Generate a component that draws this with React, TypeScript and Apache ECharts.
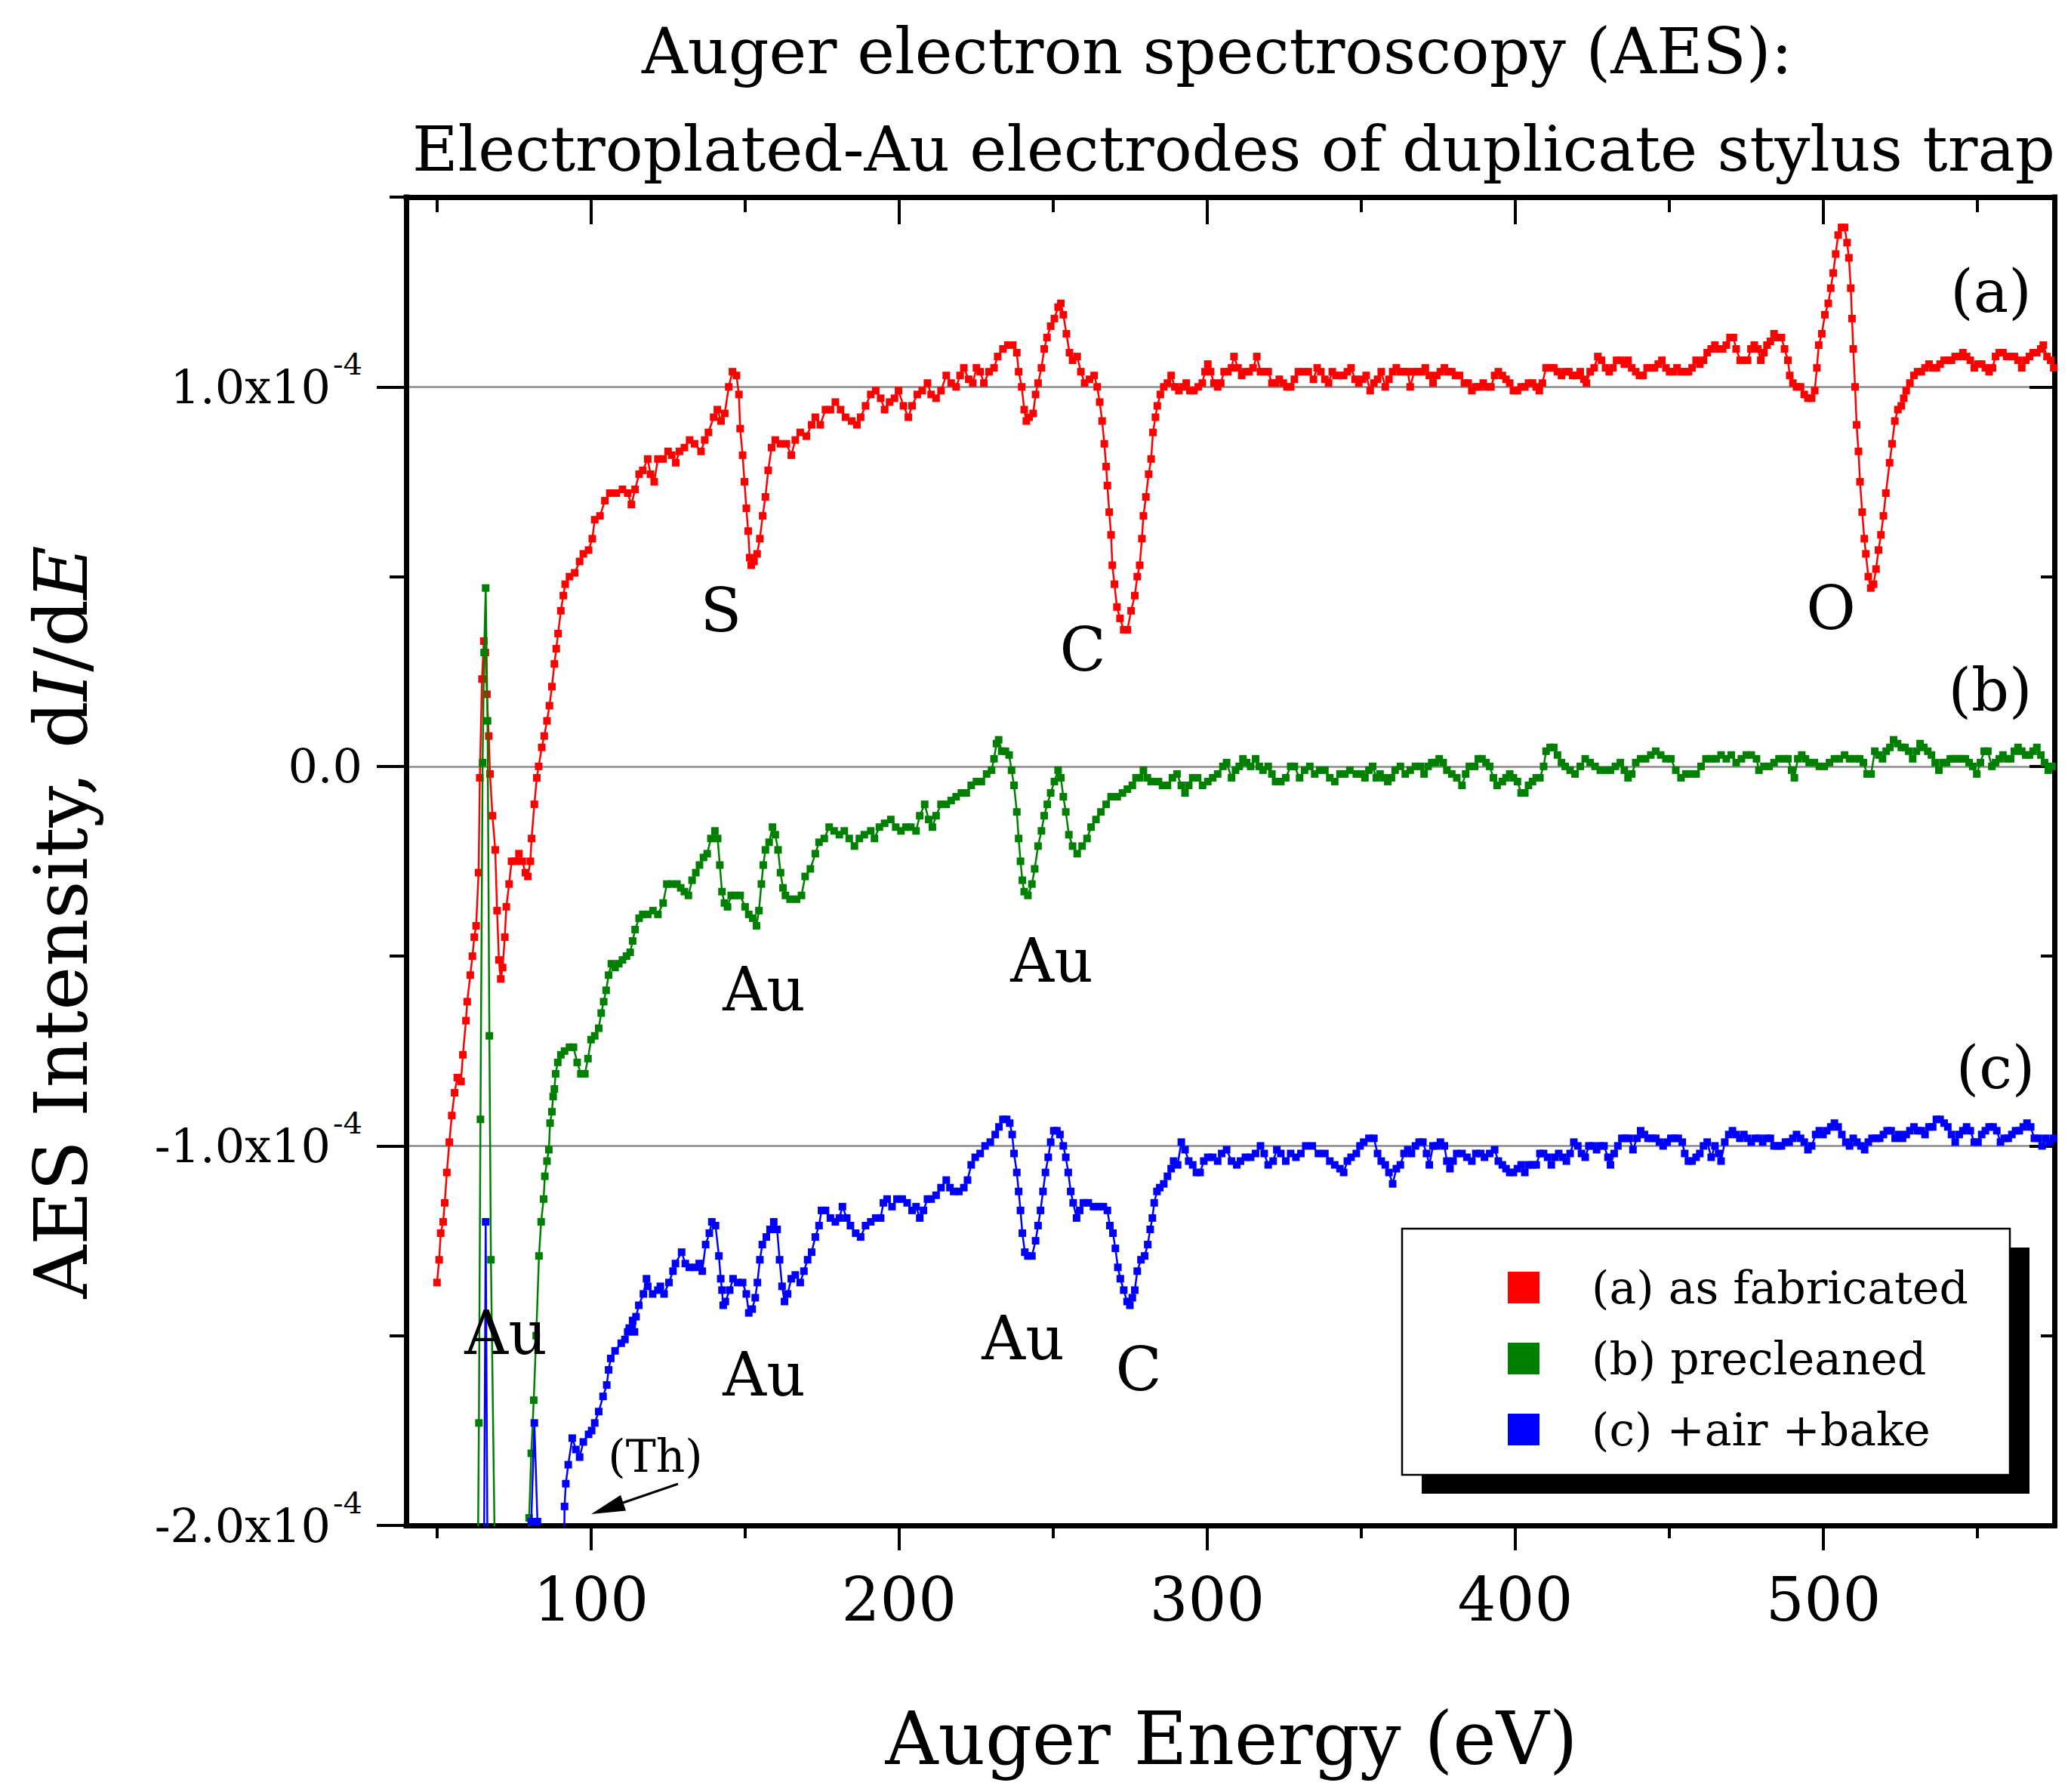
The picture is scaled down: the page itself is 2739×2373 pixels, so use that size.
import React, { useEffect, useRef } from 'react';
import * as echarts from 'echarts';

const FONT = '"DejaVu Serif", "Liberation Serif", serif';

// Axis ranges (y values are in units of 1e-4)
const X_MIN = 40;
const X_MAX = 575;
const Y_MIN = -2;
const Y_MAX = 1.5;
const xMajorTicks = [100, 200, 300, 400, 500];
const xMinorTicks = [50, 150, 250, 350, 450, 550];
const yMajorTicks = [-2, -1, 0, 1];
const yMinorTicks = [-1.5, -0.5, 0.5, 1.5];

const seriesNames = ['(a) as fabricated', '(b) precleaned', '(c) +air +bake'];
const seriesColors = ['#ff0000', '#008000', '#0000ff'];

// (a) as fabricated : [energy eV, dI/dE in 1e-4]
const seriesA = [
  [50.0,-1.36],[50.7,-1.30],[51.2,-1.23],[52.0,-1.20],[52.5,-1.15],[53.2,-1.07],[54.0,-0.99],[54.8,-0.92],[55.7,-0.86],[56.6,-0.82],
  [57.8,-0.83],[58.4,-0.76],[59.4,-0.67],[59.8,-0.62],[60.8,-0.55],[61.5,-0.50],[62.1,-0.45],[62.7,-0.42],[63.5,-0.28],[63.9,-0.03],
  [64.6,0.23],[65.2,0.33],[65.7,0.30],[66.2,0.19],[66.8,0.08],[67.2,-0.02],[68.0,-0.13],[68.9,-0.22],[69.5,-0.38],[70.1,-0.51],
  [70.7,-0.56],[71.3,-0.53],[72.0,-0.45],[72.5,-0.37],[73.4,-0.31],[74.2,-0.25],[75.4,-0.25],[76.6,-0.23],[77.7,-0.25],[78.7,-0.28],
  [79.5,-0.29],[80.3,-0.25],[80.7,-0.19],[81.6,-0.10],[82.4,-0.03],[83.0,0.00],[84.0,0.05],[84.8,0.08],[85.7,0.12],[86.5,0.16],
  [87.3,0.21],[88.1,0.27],[88.7,0.31],[89.3,0.35],[90.2,0.41],[91.0,0.45],[91.6,0.48],[93.0,0.50],[94.7,0.51],[96.3,0.54],
  [97.5,0.56],[99.2,0.57],[100.4,0.60],[101.2,0.65],[102.9,0.66],[104.5,0.70],[106.1,0.72],[108.2,0.72],[110.2,0.73],[111.9,0.72],
  [113.1,0.69],[114.3,0.73],[115.6,0.77],[116.8,0.78],[118.4,0.81],[119.3,0.77],[120.5,0.75],[121.7,0.81],[123.4,0.81],[125.0,0.83],
  [126.2,0.82],[127.5,0.80],[128.7,0.83],[130.3,0.84],[132.0,0.86],[133.6,0.85],[135.7,0.83],[136.9,0.86],[138.1,0.88],[139.8,0.92],
  [141.0,0.94],[142.2,0.91],[143.4,0.93],[144.7,1.00],[145.9,1.04],[147.2,1.03],[148.0,0.98],[148.4,0.89],[149.2,0.82],[149.8,0.75],
  [150.4,0.68],[151.0,0.62],[151.5,0.55],[152.0,0.53],[152.9,0.54],[153.9,0.56],[154.8,0.60],[155.7,0.66],[156.6,0.71],[157.5,0.78],
  [158.6,0.84],[159.8,0.86],[161.5,0.85],[163.4,0.85],[165.0,0.82],[166.3,0.86],[167.9,0.88],[169.9,0.87],[171.6,0.90],[172.8,0.92],
  [174.4,0.90],[176.1,0.94],[177.7,0.94],[179.3,0.96],[181.0,0.94],[182.6,0.92],[184.6,0.91],[186.3,0.90],[187.5,0.92],[189.1,0.95],
  [190.8,0.98],[192.4,0.99],[194.0,0.97],[195.3,0.94],[196.9,0.96],[198.5,0.97],[199.8,0.99],[201.4,0.95],[203.0,0.92],[204.2,0.95],
  [205.9,0.98],[207.5,0.99],[209.2,1.01],[210.4,0.98],[212.0,0.97],[213.6,0.99],[215.3,1.03],[216.9,1.01],[218.5,1.00],[219.8,1.03],
  [221.0,1.05],[222.6,1.02],[223.9,1.01],[225.1,1.05],[226.3,1.04],[227.5,1.01],[229.2,1.04],[230.8,1.05],[232.0,1.08],[233.7,1.10],
  [235.3,1.11],[236.9,1.11],[238.2,1.09],[238.8,1.04],[239.8,1.00],[240.6,0.94],[241.3,0.91],[242.2,0.92],[243.5,0.93],[244.3,0.98],
  [245.1,1.01],[246.2,1.05],[247.1,1.10],[248.0,1.13],[249.2,1.16],[250.4,1.18],[251.6,1.21],[252.5,1.22],[253.3,1.19],[254.3,1.14],
  [255.3,1.09],[256.3,1.07],[257.8,1.08],[259.0,1.04],[260.2,1.01],[261.8,1.02],[263.3,1.03],[264.3,1.00],[265.1,0.96],[265.9,0.91],
  [266.6,0.85],[267.2,0.79],[267.6,0.74],[268.2,0.67],[268.8,0.61],[269.2,0.53],[269.9,0.48],[270.7,0.42],[271.7,0.39],[272.9,0.36],
  [274.1,0.36],[275.3,0.41],[276.5,0.45],[277.3,0.50],[278.1,0.53],[278.8,0.60],[279.3,0.66],[280.1,0.71],[281.0,0.77],[281.8,0.81],
  [282.4,0.88],[283.2,0.92],[283.8,0.95],[284.8,0.98],[285.9,1.00],[287.1,1.01],[288.3,1.03],[289.5,1.00],[290.8,0.99],[292.0,1.00],
  [293.2,1.01],[294.4,0.99],[295.7,0.99],[297.1,1.00],[298.4,1.01],[299.3,1.04],[300.2,1.06],[301.1,1.04],[302.2,1.01],[303.4,1.00],
  [304.4,1.01],[305.5,1.04],[306.7,1.04],[307.9,1.05],[308.7,1.08],[310.0,1.05],[311.2,1.03],[312.4,1.04],[313.6,1.04],[314.9,1.05],
  [316.1,1.08],[317.3,1.04],[318.5,1.04],[319.8,1.04],[321.0,1.01],[322.2,1.01],[323.4,1.02],[324.7,1.01],[325.9,1.00],[327.1,1.00],
  [328.3,1.02],[329.6,1.04],[331.2,1.04],[332.8,1.04],[334.5,1.02],[335.7,1.05],[336.9,1.04],[338.2,1.02],[339.4,1.01],[340.6,1.04],
  [341.8,1.03],[343.1,1.03],[344.3,1.03],[345.5,1.04],[346.7,1.05],[348.0,1.02],[349.2,1.01],[350.4,1.02],[351.6,1.03],[352.9,0.99],
  [354.1,1.01],[355.3,1.02],[356.5,1.04],[357.8,1.00],[359.0,1.02],[360.2,1.04],[361.4,1.05],[362.7,1.04],[363.9,1.04],[365.1,1.04],
  [365.9,1.00],[367.2,1.04],[368.4,1.04],[369.6,1.04],[370.8,1.05],[372.1,1.03],[373.3,1.01],[374.5,1.03],[375.7,1.04],[377.0,1.05],
  [378.2,1.04],[379.4,1.04],[380.6,1.03],[381.9,1.03],[383.5,1.01],[384.7,1.01],[385.9,0.99],[387.2,1.00],[388.4,1.00],[389.6,1.01],
  [390.8,1.00],[392.1,1.00],[393.3,1.03],[394.5,1.04],[395.8,1.03],[397.0,1.02],[398.2,1.01],[399.4,0.99],[400.7,0.99],[401.9,1.00],
  [403.1,1.00],[404.3,1.01],[405.6,1.01],[406.8,1.00],[407.8,0.99],[408.8,1.01],[410.0,1.05],[411.3,1.05],[412.5,1.05],[413.7,1.04],
  [415.0,1.03],[416.2,1.04],[417.4,1.04],[418.6,1.03],[419.9,1.03],[421.1,1.04],[422.3,1.02],[423.1,1.01],[424.3,1.04],[425.6,1.05],
  [426.8,1.08],[428.0,1.07],[429.3,1.05],[430.5,1.04],[431.7,1.05],[432.9,1.07],[434.2,1.07],[435.4,1.06],[436.6,1.07],[437.8,1.05],
  [439.1,1.04],[440.3,1.03],[441.5,1.03],[442.8,1.05],[444.0,1.05],[445.2,1.05],[446.4,1.06],[447.6,1.07],[448.9,1.05],[450.1,1.04],
  [451.3,1.04],[452.5,1.05],[453.8,1.04],[455.0,1.04],[456.2,1.04],[457.4,1.05],[458.7,1.07],[459.9,1.06],[461.1,1.07],[462.3,1.09],
  [463.6,1.10],[464.8,1.11],[466.0,1.10],[467.3,1.10],[468.5,1.11],[469.7,1.13],[470.8,1.13],[471.7,1.10],[473.0,1.07],[474.2,1.07],
  [475.4,1.07],[476.5,1.10],[477.6,1.11],[478.7,1.10],[479.7,1.07],[480.7,1.09],[481.7,1.11],[482.8,1.12],[484.0,1.14],[485.2,1.13],
  [486.4,1.13],[487.4,1.10],[488.5,1.07],[489.1,1.03],[490.1,1.01],[491.3,1.00],[492.6,1.00],[493.8,0.98],[495.0,0.97],[496.2,0.97],
  [497.2,0.99],[497.9,1.05],[498.5,1.11],[499.5,1.14],[500.5,1.19],[501.6,1.22],[502.4,1.26],[503.2,1.30],[504.0,1.35],[504.8,1.40],
  [505.9,1.42],[506.9,1.42],[507.7,1.38],[508.3,1.34],[508.9,1.26],[509.3,1.18],[509.7,1.10],[510.3,1.00],[510.8,0.90],[511.4,0.83],
  [511.9,0.75],[512.6,0.67],[513.3,0.60],[513.8,0.56],[514.6,0.50],[515.4,0.47],[516.3,0.48],[517.1,0.52],[517.9,0.57],[518.7,0.61],
  [519.5,0.66],[520.3,0.72],[521.5,0.80],[522.3,0.85],[523.2,0.91],[524.2,0.94],[525.3,0.95],[526.1,0.97],[526.9,0.99],[528.1,1.01],
  [529.4,1.03],[530.6,1.04],[531.8,1.04],[533.0,1.05],[534.3,1.06],[535.5,1.05],[536.7,1.05],[537.9,1.06],[539.2,1.07],[540.4,1.07],
  [541.6,1.07],[542.8,1.08],[544.1,1.08],[545.3,1.09],[546.5,1.08],[547.7,1.07],[549.0,1.05],[550.2,1.06],[551.4,1.06],[552.6,1.05],
  [553.8,1.04],[554.9,1.05],[555.9,1.08],[557.1,1.09],[558.3,1.09],[559.5,1.08],[560.8,1.08],[562.0,1.08],[563.2,1.07],[564.4,1.05],
  [565.7,1.07],[566.9,1.08],[568.1,1.09],[569.3,1.09],[570.6,1.10],[571.4,1.11],[572.6,1.08],[573.8,1.07],[574.8,1.05]
];

// (b) precleaned
const seriesB = [
  [62.8,-2.6],[63.6,-1.73],[64.1,-0.93],[64.8,0.01],[65.3,0.30],[65.8,0.47],[66.4,0.12],[67.0,-0.71],[67.5,-1.30],[69.3,-2.4],
  [79.0,-2.5],[79.9,-1.98],[80.6,-1.81],[81.4,-1.67],[82.2,-1.50],[83.1,-1.29],[83.8,-1.20],[84.6,-1.14],[85.0,-1.08],[85.7,-1.04],
  [86.3,-1.01],[86.7,-0.94],[87.3,-0.91],[87.7,-0.87],[88.1,-0.85],[88.5,-0.81],[89.2,-0.78],[90.2,-0.76],[91.4,-0.75],[93.0,-0.74],
  [94.3,-0.74],[95.5,-0.78],[96.7,-0.81],[98.0,-0.81],[99.0,-0.77],[100.0,-0.72],[101.2,-0.71],[102.5,-0.69],[103.3,-0.65],[104.1,-0.62],
  [104.9,-0.59],[105.7,-0.55],[106.6,-0.52],[107.8,-0.53],[109.0,-0.52],[110.2,-0.51],[111.5,-0.50],[112.7,-0.49],[113.5,-0.46],[114.3,-0.43],
  [115.6,-0.40],[116.8,-0.39],[118.4,-0.39],[120.1,-0.38],[121.7,-0.39],[123.4,-0.36],[124.6,-0.31],[126.2,-0.31],[127.9,-0.31],[129.1,-0.32],
  [130.3,-0.33],[131.6,-0.34],[132.8,-0.30],[134.0,-0.28],[135.2,-0.26],[136.5,-0.24],[137.7,-0.23],[138.9,-0.19],[140.2,-0.17],[141.1,-0.19],
  [141.8,-0.26],[142.5,-0.33],[143.3,-0.36],[144.3,-0.37],[145.5,-0.34],[146.7,-0.34],[148.4,-0.34],[150.0,-0.37],[151.2,-0.39],[152.5,-0.40],
  [153.7,-0.42],[154.5,-0.38],[155.3,-0.31],[155.9,-0.26],[156.6,-0.22],[157.8,-0.20],[158.9,-0.16],[159.8,-0.18],[160.7,-0.22],[161.5,-0.28],
  [162.3,-0.32],[163.1,-0.34],[164.6,-0.35],[166.7,-0.35],[168.3,-0.34],[169.5,-0.29],[171.2,-0.27],[172.8,-0.23],[174.0,-0.20],[175.7,-0.19],
  [177.3,-0.16],[178.9,-0.17],[180.6,-0.18],[182.2,-0.17],[183.8,-0.19],[185.5,-0.21],[187.1,-0.19],[188.7,-0.18],[190.8,-0.17],[192.0,-0.19],
  [193.6,-0.16],[195.3,-0.15],[197.3,-0.14],[198.9,-0.16],[200.6,-0.17],[202.2,-0.16],[203.8,-0.16],[205.5,-0.17],[206.7,-0.13],[208.3,-0.10],
  [209.6,-0.14],[210.8,-0.16],[212.0,-0.13],[213.6,-0.10],[215.3,-0.10],[216.9,-0.09],[218.5,-0.08],[220.2,-0.07],[221.8,-0.07],[223.4,-0.05],
  [225.1,-0.04],[226.7,-0.04],[228.4,-0.02],[230.0,-0.01],[230.8,0.02],[231.6,0.06],[232.3,0.07],[233.3,0.04],[234.5,0.04],[235.7,0.03],
  [236.5,-0.01],[237.3,-0.05],[238.2,-0.12],[238.8,-0.19],[239.4,-0.25],[240.0,-0.30],[240.6,-0.33],[241.8,-0.34],[243.1,-0.31],[244.0,-0.27],
  [245.1,-0.21],[246.2,-0.17],[247.1,-0.13],[248.1,-0.10],[249.2,-0.07],[250.4,-0.04],[251.6,-0.01],[252.5,-0.03],[253.3,-0.08],[254.1,-0.12],
  [255.1,-0.18],[256.3,-0.21],[257.8,-0.23],[259.4,-0.21],[261.0,-0.19],[262.3,-0.16],[263.9,-0.14],[265.5,-0.12],[267.2,-0.10],[268.8,-0.08],
  [270.8,-0.08],[272.5,-0.07],[274.1,-0.06],[275.7,-0.05],[276.9,-0.03],[278.1,-0.03],[279.3,-0.01],[280.6,-0.03],[281.8,-0.04],[283.0,-0.04],
  [284.2,-0.04],[285.5,-0.05],[287.1,-0.05],[288.7,-0.03],[290.2,-0.02],[291.6,-0.05],[292.8,-0.07],[294.0,-0.05],[295.3,-0.03],[296.9,-0.03],
  [298.5,-0.05],[300.2,-0.04],[301.8,-0.03],[303.4,-0.02],[305.1,0.00],[306.3,0.01],[307.9,-0.03],[309.2,-0.01],[310.4,0.00],[311.6,0.02],
  [312.8,0.01],[314.1,0.00],[315.7,0.02],[316.9,0.00],[318.1,-0.01],[319.8,0.00],[321.0,-0.02],[322.2,-0.04],[323.9,-0.04],[325.5,-0.03],
  [327.1,0.00],[328.3,0.00],[330.0,-0.03],[331.6,-0.01],[333.3,0.00],[334.9,-0.02],[336.5,-0.01],[338.2,-0.01],[339.8,-0.03],[341.4,-0.04],
  [343.1,-0.02],[344.7,-0.02],[346.3,-0.01],[348.4,-0.02],[350.0,-0.02],[351.2,-0.03],[352.5,-0.01],[353.7,0.00],[354.9,-0.03],[356.1,-0.02],
  [357.4,-0.03],[358.6,-0.04],[359.8,-0.03],[361.0,-0.01],[362.7,0.00],[364.3,-0.02],[365.9,-0.01],[367.6,0.00],[369.2,0.00],[370.4,-0.02],
  [371.7,0.00],[372.9,0.01],[374.1,0.01],[375.3,0.02],[376.6,0.01],[377.8,-0.01],[379.4,-0.02],[381.0,-0.03],[382.7,-0.05],[383.9,-0.02],
  [385.1,0.00],[386.8,0.00],[388.0,0.02],[389.2,0.02],[390.5,0.01],[391.7,0.00],[392.9,-0.03],[394.1,-0.05],[395.8,-0.04],[397.0,-0.03],
  [398.2,-0.02],[399.4,-0.03],[400.7,-0.04],[401.9,-0.07],[403.1,-0.07],[404.3,-0.05],[405.6,-0.04],[406.8,-0.03],[408.0,-0.03],[409.2,0.00],
  [410.0,0.04],[411.3,0.05],[412.5,0.05],[413.7,0.03],[415.0,0.01],[416.2,0.00],[417.8,-0.01],[419.4,-0.02],[421.1,0.00],[422.7,0.02],
  [424.3,0.01],[425.9,0.00],[427.6,-0.01],[429.2,-0.01],[430.9,-0.01],[432.5,0.00],[434.1,0.01],[435.4,-0.01],[436.6,-0.03],[437.8,-0.02],
  [439.1,0.01],[440.7,0.02],[442.3,0.02],[444.0,0.03],[445.6,0.04],[447.2,0.03],[448.9,0.02],[450.5,0.02],[452.1,-0.01],[453.8,-0.03],
  [455.4,-0.02],[457.0,-0.02],[458.7,-0.02],[460.3,0.00],[461.9,0.02],[463.6,0.02],[465.2,0.02],[466.8,0.03],[468.5,0.02],[470.1,0.03],
  [471.7,0.01],[473.4,0.02],[475.0,0.03],[476.6,0.03],[478.3,0.02],[479.1,-0.01],[480.7,0.00],[482.4,0.00],[484.0,0.01],[485.6,0.02],
  [487.3,0.02],[488.5,0.02],[489.7,-0.01],[490.6,-0.03],[491.7,0.02],[493.0,0.03],[494.2,0.02],[495.4,0.01],[497.1,0.01],[498.7,0.00],
  [500.3,0.00],[502.0,0.01],[503.6,0.02],[505.2,0.02],[506.9,0.03],[508.5,0.02],[510.1,0.02],[511.8,0.02],[513.0,0.01],[514.2,-0.02],
  [515.5,-0.02],[516.7,0.04],[518.0,0.03],[519.2,0.02],[520.4,0.04],[521.6,0.05],[522.8,0.07],[524.1,0.06],[525.3,0.05],[526.5,0.05],
  [527.7,0.04],[529.0,0.02],[530.2,0.04],[531.4,0.06],[532.6,0.05],[533.9,0.04],[535.1,0.03],[536.3,0.01],[537.5,-0.01],[538.8,0.01],
  [540.0,0.01],[541.2,0.02],[542.4,0.02],[543.7,0.02],[544.9,0.02],[546.1,0.02],[547.3,0.01],[548.5,0.00],[549.8,-0.02],[551.0,0.01],
  [552.2,0.04],[553.4,0.04],[554.7,0.00],[555.9,0.01],[557.1,0.02],[558.3,0.03],[559.6,0.02],[560.8,0.02],[562.0,0.04],[563.2,0.05],
  [564.4,0.04],[565.7,0.03],[566.9,0.03],[568.1,0.04],[569.3,0.05],[570.6,0.03],[571.8,0.01],[573.0,-0.01],[574.2,0.00]
];

// (c) +air +bake
const seriesC = [
  [64.7,-3.0],[65.8,-1.20],[67.0,-3.0],[80.0,-2.6],[80.6,-1.99],[81.6,-1.73],[82.6,-1.99],[83.5,-2.6],[90.8,-2.4],[91.4,-1.95],
  [91.8,-1.89],[92.6,-1.84],[93.9,-1.77],[95.1,-1.80],[96.3,-1.82],[97.5,-1.78],[99.2,-1.76],[100.2,-1.75],[101.2,-1.73],[102.5,-1.70],
  [103.9,-1.66],[105.1,-1.63],[105.7,-1.59],[106.4,-1.56],[107.8,-1.54],[109.8,-1.52],[111.0,-1.51],[111.9,-1.49],[112.4,-1.48],[113.5,-1.46],
  [114.1,-1.49],[114.6,-1.45],[115.5,-1.42],[117.0,-1.39],[118.0,-1.35],[118.4,-1.37],[120.0,-1.39],[121.7,-1.38],[122.5,-1.37],[123.7,-1.39],
  [125.3,-1.36],[126.6,-1.33],[127.4,-1.31],[129.4,-1.28],[130.6,-1.31],[131.9,-1.32],[133.9,-1.32],[135.1,-1.31],[136.1,-1.33],[137.2,-1.26],
  [138.4,-1.23],[139.2,-1.20],[140.4,-1.21],[141.5,-1.29],[142.1,-1.35],[142.5,-1.38],[142.9,-1.42],[143.6,-1.41],[145.0,-1.38],[146.1,-1.35],
  [147.6,-1.36],[149.2,-1.36],[150.4,-1.39],[151.2,-1.44],[152.3,-1.43],[153.3,-1.40],[154.0,-1.36],[154.8,-1.30],[155.6,-1.26],[156.9,-1.24],
  [158.1,-1.22],[159.3,-1.20],[160.4,-1.22],[161.2,-1.30],[162.0,-1.37],[162.8,-1.41],[163.8,-1.39],[165.0,-1.35],[166.3,-1.34],[167.9,-1.36],
  [169.1,-1.33],[170.3,-1.30],[171.6,-1.28],[172.8,-1.24],[174.0,-1.21],[174.8,-1.17],[176.1,-1.17],[177.7,-1.19],[179.3,-1.20],[180.6,-1.19],
  [181.6,-1.16],[183.0,-1.19],[184.2,-1.21],[185.9,-1.23],[187.5,-1.24],[189.1,-1.21],[190.8,-1.20],[192.4,-1.19],[194.0,-1.19],[194.9,-1.15],
  [196.1,-1.14],[197.7,-1.16],[199.3,-1.14],[201.0,-1.14],[202.6,-1.15],[204.2,-1.17],[205.5,-1.16],[206.7,-1.19],[207.9,-1.17],[209.2,-1.14],
  [210.4,-1.14],[212.0,-1.13],[213.6,-1.11],[215.3,-1.09],[216.5,-1.11],[217.7,-1.12],[219.4,-1.12],[221.0,-1.11],[222.2,-1.09],[223.4,-1.05],
  [224.7,-1.03],[226.3,-1.02],[227.9,-1.00],[229.6,-0.99],[231.2,-0.97],[232.4,-0.95],[233.7,-0.93],[234.9,-0.93],[235.9,-0.94],[236.7,-0.97],
  [237.3,-1.02],[238.2,-1.07],[238.8,-1.12],[239.4,-1.17],[240.0,-1.23],[240.8,-1.28],[241.8,-1.29],[243.1,-1.29],[244.3,-1.25],[245.1,-1.21],
  [245.9,-1.17],[246.7,-1.12],[247.5,-1.07],[248.4,-1.03],[249.2,-0.99],[250.2,-0.96],[251.2,-0.96],[252.2,-0.97],[253.3,-1.00],[254.1,-1.03],
  [254.9,-1.07],[255.7,-1.12],[256.5,-1.15],[257.6,-1.19],[258.6,-1.17],[259.8,-1.15],[261.4,-1.15],[263.1,-1.16],[264.7,-1.16],[266.3,-1.16],
  [267.6,-1.17],[268.4,-1.21],[269.4,-1.23],[270.2,-1.27],[271.0,-1.32],[271.8,-1.35],[272.9,-1.38],[274.0,-1.41],[274.9,-1.42],[275.7,-1.40],
  [276.5,-1.38],[277.3,-1.33],[278.5,-1.30],[279.7,-1.29],[280.7,-1.26],[281.5,-1.22],[282.2,-1.19],[282.8,-1.15],[283.7,-1.12],[284.6,-1.11],
  [285.9,-1.10],[287.1,-1.08],[288.3,-1.06],[289.1,-1.04],[290.4,-1.05],[291.6,-0.99],[292.8,-1.01],[294.0,-1.04],[295.3,-1.05],[296.5,-1.07],
  [297.7,-1.07],[298.9,-1.04],[300.2,-1.03],[301.8,-1.03],[303.4,-1.04],[304.7,-1.02],[306.3,-1.01],[307.9,-1.04],[309.6,-1.05],[310.8,-1.04],
  [312.4,-1.03],[314.1,-1.03],[315.7,-1.02],[317.3,-1.00],[318.5,-1.02],[319.8,-1.05],[321.4,-1.04],[322.6,-1.01],[323.9,-1.02],[325.5,-1.04],
  [327.1,-1.02],[328.8,-1.03],[330.4,-1.02],[332.0,-1.00],[334.1,-1.00],[336.1,-1.02],[338.2,-1.02],[339.8,-1.04],[341.4,-1.05],[343.1,-1.06],
  [344.3,-1.07],[345.5,-1.04],[346.7,-1.03],[348.4,-1.02],[349.6,-1.00],[350.8,-0.99],[352.5,-0.98],[354.1,-0.98],[355.3,-1.02],[356.5,-1.04],
  [357.8,-1.05],[359.0,-1.07],[360.2,-1.10],[361.4,-1.06],[362.7,-1.05],[363.9,-1.02],[365.1,-1.01],[366.3,-1.02],[367.6,-1.00],[368.8,-0.99],
  [370.0,-0.99],[371.2,-1.02],[372.1,-1.05],[373.3,-1.00],[374.5,-1.00],[375.7,-0.99],[377.0,-1.00],[377.8,-1.04],[378.8,-1.06],[379.8,-1.04],
  [381.0,-1.02],[382.7,-1.02],[384.3,-1.03],[385.9,-1.04],[387.2,-1.02],[388.8,-1.02],[390.0,-1.03],[391.7,-1.02],[393.3,-1.01],[394.5,-1.04],
  [395.8,-1.05],[397.0,-1.06],[398.2,-1.07],[399.4,-1.07],[400.7,-1.06],[401.9,-1.05],[403.1,-1.07],[404.3,-1.05],[405.6,-1.05],[406.8,-1.05],
  [408.0,-1.02],[409.2,-1.02],[410.5,-1.03],[411.7,-1.05],[412.9,-1.03],[414.1,-1.02],[415.4,-1.03],[416.6,-1.04],[417.8,-1.02],[419.0,-0.99],
  [420.3,-1.00],[421.5,-1.02],[422.7,-1.03],[423.9,-1.00],[425.2,-1.00],[426.4,-1.01],[427.6,-1.00],[428.8,-1.00],[430.1,-1.03],[430.9,-1.05],
  [432.1,-1.02],[433.3,-1.00],[434.6,-0.98],[435.8,-0.98],[437.0,-0.98],[438.2,-1.01],[439.5,-0.98],[440.7,-0.96],[441.9,-0.97],[443.1,-0.98],
  [444.4,-0.98],[445.6,-0.98],[446.8,-0.99],[448.0,-1.00],[449.3,-0.99],[450.5,-0.98],[451.7,-0.98],[452.9,-0.98],[454.2,-0.99],[455.0,-1.02],
  [456.2,-1.04],[457.4,-1.04],[458.7,-1.03],[459.9,-1.02],[461.1,-1.00],[462.3,-0.99],[463.6,-1.03],[464.8,-1.00],[466.0,-1.02],[466.8,-1.04],
  [468.0,-0.99],[469.3,-0.97],[470.5,-0.96],[471.7,-0.97],[472.9,-0.98],[474.2,-0.97],[475.4,-0.98],[476.6,-0.99],[477.9,-0.98],[479.1,-0.98],
  [480.3,-0.99],[481.5,-0.98],[482.8,-0.98],[484.0,-1.00],[485.2,-1.00],[486.4,-1.00],[487.7,-0.99],[488.9,-0.99],[490.1,-0.98],[491.3,-0.97],
  [492.6,-0.98],[493.8,-0.99],[495.0,-1.01],[496.2,-1.00],[497.5,-0.97],[498.7,-0.96],[499.9,-0.97],[501.1,-0.96],[502.4,-0.95],[503.6,-0.94],
  [504.8,-0.95],[506.0,-0.97],[507.3,-0.99],[508.5,-1.00],[509.7,-0.98],[510.9,-0.99],[512.2,-1.00],[513.4,-1.01],[514.6,-0.99],[515.8,-0.98],
  [517.1,-0.98],[518.3,-0.98],[519.5,-0.97],[520.7,-0.96],[522.0,-0.96],[523.3,-0.98],[524.5,-0.97],[525.7,-0.98],[526.9,-0.97],[528.1,-0.96],
  [529.4,-0.95],[530.6,-0.96],[531.8,-0.96],[533.0,-0.97],[534.3,-0.95],[535.5,-0.95],[536.7,-0.93],[537.9,-0.93],[539.2,-0.94],[540.4,-0.95],
  [541.6,-0.97],[542.8,-0.99],[544.1,-0.97],[545.3,-0.96],[546.5,-0.95],[547.7,-0.96],[549.0,-0.99],[550.2,-0.99],[551.4,-0.97],[552.6,-0.96],
  [553.8,-0.95],[555.1,-0.95],[556.3,-0.96],[557.5,-0.99],[558.7,-0.98],[560.0,-0.98],[561.2,-0.97],[562.4,-0.96],[563.6,-0.96],[564.9,-0.95],
  [566.1,-0.94],[567.3,-0.95],[568.5,-0.98],[569.8,-0.98],[571.0,-1.00],[572.2,-0.98],[573.4,-0.99],[574.7,-0.98]
];

const seriesData = [seriesA, seriesB, seriesC];

function txt(text: string, x: number, y: number, size: number, align = 'center', extra: any = {}) {
  return {
    type: 'text',
    x,
    y,
    z: 20,
    silent: true,
    ...extra,
    style: {
      text,
      fontSize: size,
      fontFamily: FONT,
      fill: '#000',
      align,
      textAlign: align,
      verticalAlign: 'middle',
      textVerticalAlign: 'middle',
      ...(extra.style || {}),
    },
  };
}

const AXIS_W = 7;

function baseAxis(extra: any) {
  return {
    type: 'value',
    splitLine: { show: false },
    axisLabel: { show: false },
    ...extra,
  };
}

export default function App() {
  const ref = useRef<HTMLDivElement>(null);

  useEffect(() => {
    document.body.style.margin = '0';
    if (!ref.current) return;
    const chart = echarts.init(ref.current, undefined, { renderer: 'svg' });

    const lineStyleAxis = { color: '#000', width: AXIS_W, cap: 'square' };
    const tickStyle = { color: '#000', width: 4 };

    const xCommon = { min: X_MIN, max: X_MAX, gridIndex: 0 };
    const yCommon = { min: Y_MIN, max: Y_MAX, interval: 1, gridIndex: 0 };

    const option: any = {
      animation: false,
      backgroundColor: '#fff',
      grid: { left: 538, right: 18, top: 261, bottom: 353, containLabel: false, outerBoundsMode: 'none' },
      xAxis: [
        baseAxis({
          ...xCommon,
          position: 'bottom',
          axisLine: { show: true, onZero: false, lineStyle: lineStyleAxis },
          axisTick: { show: true, inside: false, length: 33, customValues: xMajorTicks, lineStyle: tickStyle },
          axisLabel: {
            show: true,
            customValues: xMajorTicks,
            fontSize: 80,
            fontFamily: FONT,
            color: '#000',
            margin: 58,
          },
        }),
        baseAxis({
          ...xCommon,
          position: 'bottom',
          axisLine: { show: false, onZero: false },
          axisTick: { show: true, inside: false, length: 17, customValues: xMinorTicks, lineStyle: tickStyle },
        }),
        baseAxis({
          ...xCommon,
          position: 'top',
          axisLine: { show: true, onZero: false, lineStyle: lineStyleAxis },
          axisTick: { show: true, inside: true, length: 36, customValues: xMajorTicks, lineStyle: tickStyle },
        }),
        baseAxis({
          ...xCommon,
          position: 'top',
          axisLine: { show: false, onZero: false },
          axisTick: { show: true, inside: true, length: 20, customValues: xMinorTicks, lineStyle: tickStyle },
        }),
      ],
      yAxis: [
        {
          type: 'value',
          ...yCommon,
          position: 'left',
          axisLine: { show: true, onZero: false, lineStyle: lineStyleAxis },
          axisTick: { show: true, inside: false, length: 39, customValues: yMajorTicks, lineStyle: tickStyle },
          splitLine: { show: true, lineStyle: { color: '#8a8a8a', width: 2.5 } },
          axisLabel: {
            show: true,
            customValues: yMajorTicks,
            fontSize: 62,
            fontFamily: FONT,
            color: '#000',
            margin: 58,
            lineHeight: 100,
            formatter: (v: number) => (Math.abs(v) < 1e-9 ? '0.0' : `${v.toFixed(1)}x10{s|-4}`),
            rich: {
              s: { fontSize: 40, fontFamily: FONT, color: '#000', lineHeight: 40, verticalAlign: 'top', padding: [0, 0, 0, 3] },
            },
          },
        },
        baseAxis({
          ...yCommon,
          position: 'left',
          axisLine: { show: false, onZero: false },
          axisTick: { show: true, inside: false, length: 22, customValues: yMinorTicks, lineStyle: tickStyle },
        }),
        baseAxis({
          ...yCommon,
          position: 'right',
          axisLine: { show: true, onZero: false, lineStyle: lineStyleAxis },
          axisTick: { show: true, inside: true, length: 33, customValues: yMajorTicks, lineStyle: tickStyle },
        }),
        baseAxis({
          ...yCommon,
          position: 'right',
          axisLine: { show: false, onZero: false },
          axisTick: { show: true, inside: true, length: 18, customValues: yMinorTicks, lineStyle: tickStyle },
        }),
      ],
      legend: {
        data: seriesNames,
        orient: 'vertical',
        left: 1992,
        top: 1670,
        itemWidth: 42,
        itemHeight: 42,
        itemGap: 34,
        icon: 'rect',
        selectedMode: false,
        z: 30,
        textStyle: { fontFamily: FONT, fontSize: 60, color: '#000', lineHeight: 42, padding: [0, 0, 0, 64] },
      },
      series: seriesNames.map((name, i) => ({
        name,
        type: 'line',
        xAxisIndex: 0,
        yAxisIndex: 0,
        data: seriesData[i],
        symbol: 'rect',
        symbolSize: 10,
        showSymbol: true,
        showAllSymbol: true,
        clip: true,
        z: 3 + i,
        lineStyle: { color: seriesColors[i], width: 2.5 },
        itemStyle: { color: seriesColors[i] },
        emphasis: { disabled: true },
      })),
      graphic: [
        // legend shadow + box
        { type: 'rect', z: 25, silent: true, shape: { x: 1883, y: 1652, width: 805, height: 326 }, style: { fill: '#000' } },
        { type: 'rect', z: 26, silent: true, shape: { x: 1857, y: 1627, width: 805, height: 326 }, style: { fill: '#fff', stroke: '#000', lineWidth: 2.5 } },
        // titles
        txt('Auger electron spectroscopy (AES):', 1612, 68, 84),
        txt('Electroplated-Au electrodes of duplicate stylus trap', 546, 197, 83, 'left'),
        // axis names
        txt('Auger Energy (eV)', 1631, 2302, 97),
        {
          type: 'text',
          x: 81,
          y: 1221,
          rotation: Math.PI / 2,
          z: 20,
          silent: true,
          style: {
            text: 'AES Intensity, d{i|I}/d{i|E}',
            fontSize: 98,
            fontFamily: FONT,
            fill: '#000',
            align: 'center',
            textAlign: 'center',
            verticalAlign: 'middle',
            textVerticalAlign: 'middle',
            rich: { i: { fontSize: 98, fontFamily: FONT, fontStyle: 'italic', fill: '#000', color: '#000' } },
          },
        },
        // peak annotations
        txt('S', 955, 808, 80),
        txt('C', 1434, 860, 80),
        txt('O', 2425, 805, 80),
        txt('Au', 1012, 1310, 80),
        txt('Au', 1393, 1272, 80),
        txt('Au', 670, 1765, 80),
        txt('Au', 1012, 1820, 80),
        txt('Au', 1355, 1772, 80),
        txt('C', 1508, 1813, 80),
        txt('(a)', 2637, 386, 78),
        txt('(b)', 2636, 914, 78),
        txt('(c)', 2643, 1414, 78),
        txt('(Th)', 868, 1928, 60),
        // arrow to (Th)
        { type: 'line', z: 20, silent: true, shape: { x1: 898, y1: 1965, x2: 825, y2: 1990 }, style: { stroke: '#000', lineWidth: 3 } },
        { type: 'polygon', z: 20, silent: true, shape: { points: [[783, 2005], [829, 2000.6], [822, 1979.8]] }, style: { fill: '#000' } },
      ],
    };

    chart.setOption(option);
    return () => chart.dispose();
  }, []);

  return <div ref={ref} style={{ width: 2739, height: 2373 }} />;
}
